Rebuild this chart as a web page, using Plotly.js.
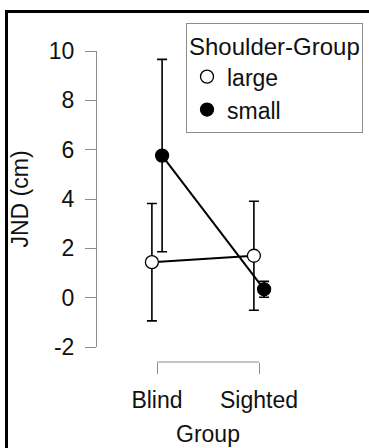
<!DOCTYPE html>
<html>
<head>
<meta charset="utf-8">
<script src="https://cdn.plot.ly/plotly-3.0.1.min.js"></script>
<style>
  html, body { margin: 0; padding: 0; background: #fff; }
  #wrap { position: relative; width: 369px; height: 448px; overflow: hidden; }
  #chart { position: absolute; left: 0; top: 0; width: 369px; height: 448px; }
  .frame { position: absolute; background: #000; z-index: 10; }
</style>
</head>
<body>
<div id="wrap">
  <div id="chart"></div>
  <div class="frame" style="left:5px; top:10px; width:364px; height:3px;"></div>
  <div class="frame" style="left:5px; top:10px; width:3px; height:438px;"></div>
</div>
<script>
// ---- data ----
var categories = ["Blind", "Sighted"];
var seriesNames = ["large", "small"];
var largeMean = [1.44, 1.70];
var largeErr = [2.38, 2.21];
var smallMean = [5.76, 0.34];
var smallErr = [3.90, 0.32];
var yTicks = [-2, 0, 2, 4, 6, 8, 10];
var yTickText = ["-2", "0", "2", "4", "6", "8", "10"];

// ---- style ----
var FONT = "Liberation Sans, Arial, Helvetica, sans-serif";
var FS = 23;
var LFS = 24;
var TXT = "#111111";
var AXC = "#8c8c8c";
var dodge = 0.05;
var idx = categories.map(function (c, i) { return i; });

function xs(off) { return idx.map(function (i) { return i + off; }); }

function lineTrace(means, off) {
  return {
    x: xs(off), y: means, type: "scatter", mode: "lines",
    line: { color: "#000", width: 2 }, showlegend: false, hoverinfo: "skip"
  };
}
function markTrace(name, means, errs, off, fill) {
  return {
    x: xs(off), y: means, type: "scatter", mode: "markers", name: name,
    marker: { symbol: "circle", size: 13, color: fill, line: { color: "#000", width: 1.3 } },
    error_y: { type: "data", array: errs, visible: true, color: "#000", thickness: 1.6, width: 5 }
  };
}

var traces = [
  lineTrace(largeMean, -dodge),
  lineTrace(smallMean, dodge),
  markTrace(seriesNames[0], largeMean, largeErr, -dodge, "#ffffff"),
  markTrace(seriesNames[1], smallMean, smallErr, dodge, "#000000")
];

var layout = {
  width: 369, height: 448,
  margin: { l: 96, r: 59, t: 51, b: 86, pad: 0, autoexpand: false },
  paper_bgcolor: "#fff", plot_bgcolor: "#fff",
  font: { family: FONT, size: FS, color: TXT },
  showlegend: true,
  xaxis: {
    domain: [0.04673, 1], range: [-0.5, 1.5], anchor: "free", position: 0,
    showline: false, showgrid: false, zeroline: false,
    ticks: "outside", ticklen: 11, tickcolor: AXC, tickwidth: 1,
    tickmode: "array", tickvals: idx, ticktext: categories,
    ticklabelstandoff: 6,
    tickfont: { family: FONT, size: FS, color: TXT },
    title: { text: "Group", font: { family: FONT, size: FS, color: TXT }, standoff: 14 },
    fixedrange: true
  },
  yaxis: {
    domain: [0.0482, 1], range: [-2, 10], anchor: "free", position: 0,
    showline: true, linecolor: AXC, linewidth: 1,
    ticks: "outside", ticklen: 11, tickcolor: AXC, tickwidth: 1,
    tickmode: "array", tickvals: yTicks, ticktext: yTickText,
    ticklabelstandoff: 6,
    tickfont: { family: FONT, size: FS, color: TXT },
    showgrid: false, zeroline: false,
    title: { text: "JND (cm)", font: { family: FONT, size: FS, color: TXT }, standoff: 12 },
    fixedrange: true
  },
  shapes: [{
    type: "line", xref: "x", yref: "paper",
    x0: idx[0], x1: idx[idx.length - 1], y0: 0, y1: 0,
    line: { color: AXC, width: 1 }
  }],
  legend: {
    x: 0.4206, y: 1.09, xanchor: "left", yanchor: "top",
    bgcolor: "#fff", bordercolor: AXC, borderwidth: 1,
    font: { family: FONT, size: FS, color: TXT },
    title: { text: "Shoulder-Group", font: { family: FONT, size: LFS, color: TXT } },
    tracegroupgap: 0
  }
};

Plotly.newPlot("chart", traces, layout, { displayModeBar: false, staticPlot: true });
</script>
</body>
</html>
